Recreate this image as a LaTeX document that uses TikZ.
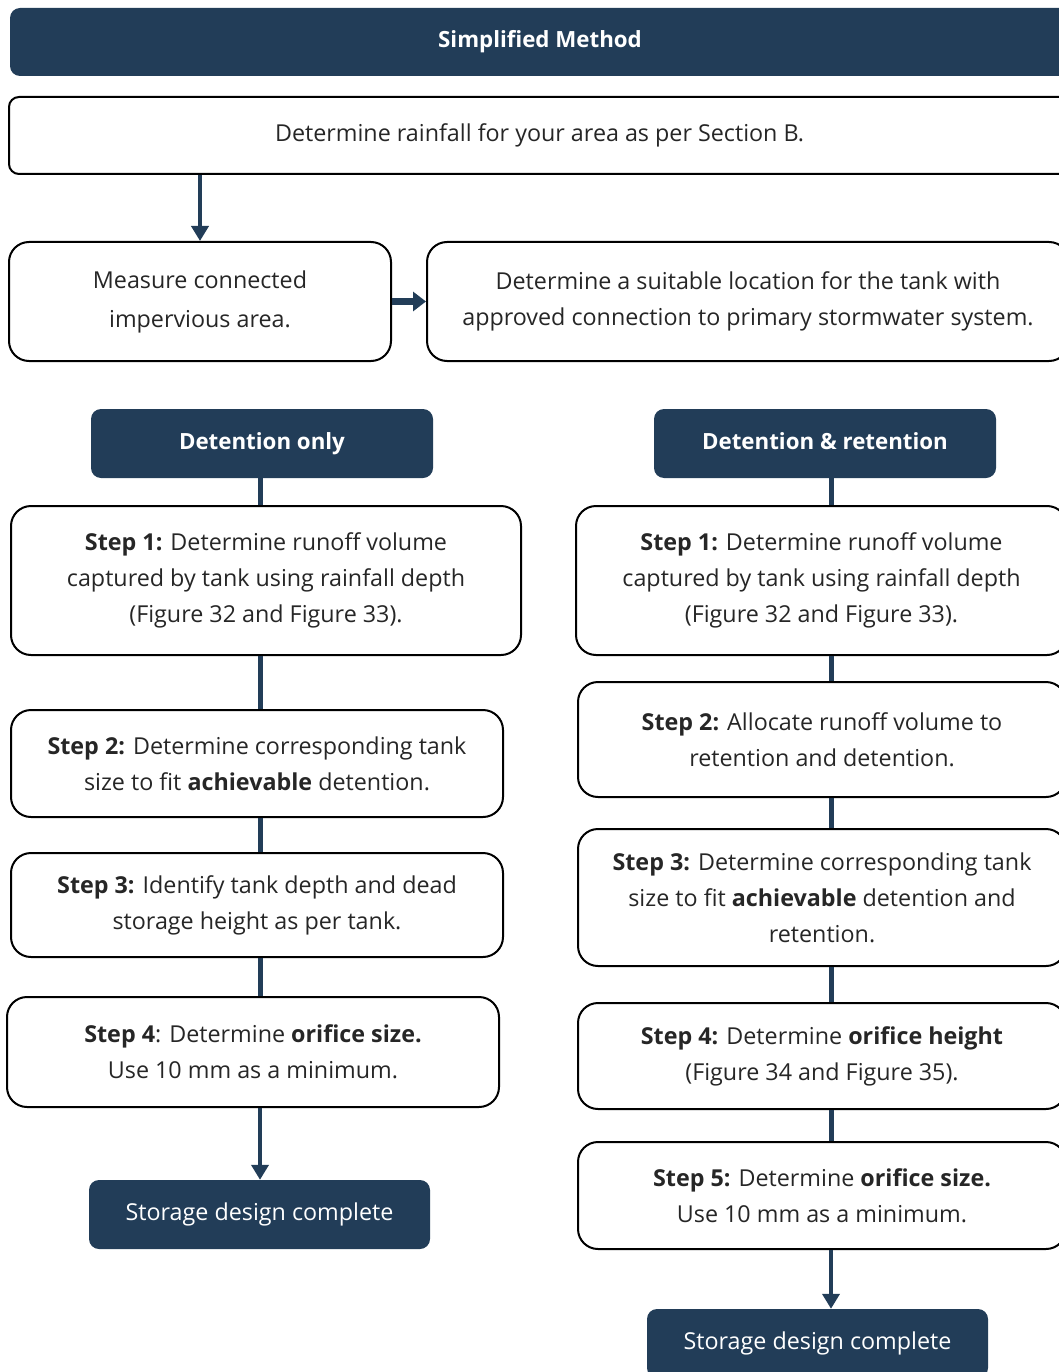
\documentclass[tikz,border=0pt]{standalone}
\usepackage{fontspec}
\setmainfont{Open Sans}
\usetikzlibrary{arrows.meta}
\definecolor{navy}{RGB}{34,61,88}
\tikzset{
  wbox/.style={draw=black, line width=2pt, fill=white, rounded corners=20pt, inner sep=0pt, align=center, font=\fontsize{23.3}{36}\selectfont, text=black!85},
  abox/.style={wbox, rounded corners=10pt},
  nbox/.style={fill=navy, rounded corners=10pt, inner sep=0pt, align=center, text=white, font=\fontsize{22.3}{30}\selectfont\bfseries, text height=16pt, text depth=5pt},
  endbox/.style={nbox, font=\fontsize{23.3}{30}\selectfont},
  colline/.style={draw=navy, line width=5pt},
  flow/.style={draw=navy, line width=4.5pt, -{Triangle[width=17pt,length=15pt]}},
  sflow/.style={draw=navy, line width=7pt, -{Triangle[width=19pt,length=13pt]}},
}
\begin{document}
\begin{tikzpicture}[x=1pt,y=-1pt]
\useasboundingbox (0,0) rectangle (1059,1372);
\clip (0,0) rectangle (1059,1372);
% top
\node[nbox, minimum width=1060pt, minimum height=68pt] (title) at (540,42) {Simplified Method};
\node[abox, minimum width=1061pt, minimum height=77pt] (A) at (539.5,135.5) {\raisebox{4pt}{Determine rainfall for your area as per Section B.}};
\node[wbox, minimum width=382pt, minimum height=119pt, font=\fontsize{23.3}{39}\selectfont] (B) at (200,301.5) {Measure connected\\impervious area.};
\node[wbox, minimum width=642pt, minimum height=119pt] (C) at (748,301.5) {Determine a suitable location for the tank with\\approved connection to primary stormwater system.};
% headers
\node[nbox, minimum width=342pt, minimum height=69pt] (DO) at (262,443.5) {Detention only};
\node[nbox, minimum width=342pt, minimum height=69pt] (DR) at (825,443.5) {Detention \& retention};
% left column
\coordinate (cl) at (260,0);
\coordinate (cr) at (831,0);
\node[wbox, minimum width=510pt, minimum height=149pt] (L1) at (266,580.5) {\textbf{Step 1:} Determine runoff volume\\captured by tank using rainfall depth\\(Figure 32 and Figure 33).};
\node[wbox, minimum width=492pt, minimum height=107pt] (L2) at (257,763.5) {\textbf{Step 2:} Determine corresponding tank\\size to fit \textbf{achievable} detention.};
\node[wbox, minimum width=492pt, minimum height=104pt] (L3) at (257,905) {\textbf{Step 3:} Identify tank depth and dead\\storage height as per tank.};
\node[wbox, minimum width=492pt, minimum height=110pt] (L4) at (253,1052) {\textbf{Step 4}: Determine \textbf{orifice size.}\\Use 10 mm as a minimum.};
\node[endbox, minimum width=341pt, minimum height=69pt] (SL) at (259.5,1214.5) {Storage design complete};
% right column
\node[wbox, minimum width=491pt, minimum height=149pt] (R1) at (821.5,580.5) {\textbf{Step 1:} Determine runoff volume\\captured by tank using rainfall depth\\(Figure 32 and Figure 33).};
\node[wbox, minimum width=488pt, minimum height=115pt] (R2) at (822,739.5) {\textbf{Step 2:} Allocate runoff volume to\\retention and detention.};
\node[wbox, minimum width=488pt, minimum height=137pt] (R3) at (822,897.5) {\textbf{Step 3:} Determine corresponding tank\\size to fit \textbf{achievable} detention and\\retention.};
\node[wbox, minimum width=488pt, minimum height=106pt] (R4) at (822,1056) {\textbf{Step 4:} Determine \textbf{orifice height}\\(Figure 34 and Figure 35).};
\node[wbox, minimum width=488pt, minimum height=107pt] (R5) at (822,1195.5) {\textbf{Step 5:} Determine \textbf{orifice size.}\\Use 10 mm as a minimum.};
\node[endbox, minimum width=341pt, minimum height=69pt] (SR) at (817.5,1343.5) {Storage design complete};
% connectors
\draw[flow] (A.south -| B.north) -- (B.north);
\draw[sflow] (B.east) -- (C.west);
\draw[colline] (DO.south -| cl) -- (L1.north -| cl);
\draw[colline] (L1.south -| cl) -- (L2.north -| cl);
\draw[colline] (L2.south -| cl) -- (L3.north -| cl);
\draw[colline] (L3.south -| cl) -- (L4.north -| cl);
\draw[flow] (L4.south -| cl) -- (SL.north -| cl);
\draw[colline] (DR.south -| cr) -- (R1.north -| cr);
\draw[colline] (R1.south -| cr) -- (R2.north -| cr);
\draw[colline] (R2.south -| cr) -- (R3.north -| cr);
\draw[colline] (R3.south -| cr) -- (R4.north -| cr);
\draw[colline] (R4.south -| cr) -- (R5.north -| cr);
\draw[flow] (R5.south -| cr) -- (SR.north -| cr);
\end{tikzpicture}
\end{document}
